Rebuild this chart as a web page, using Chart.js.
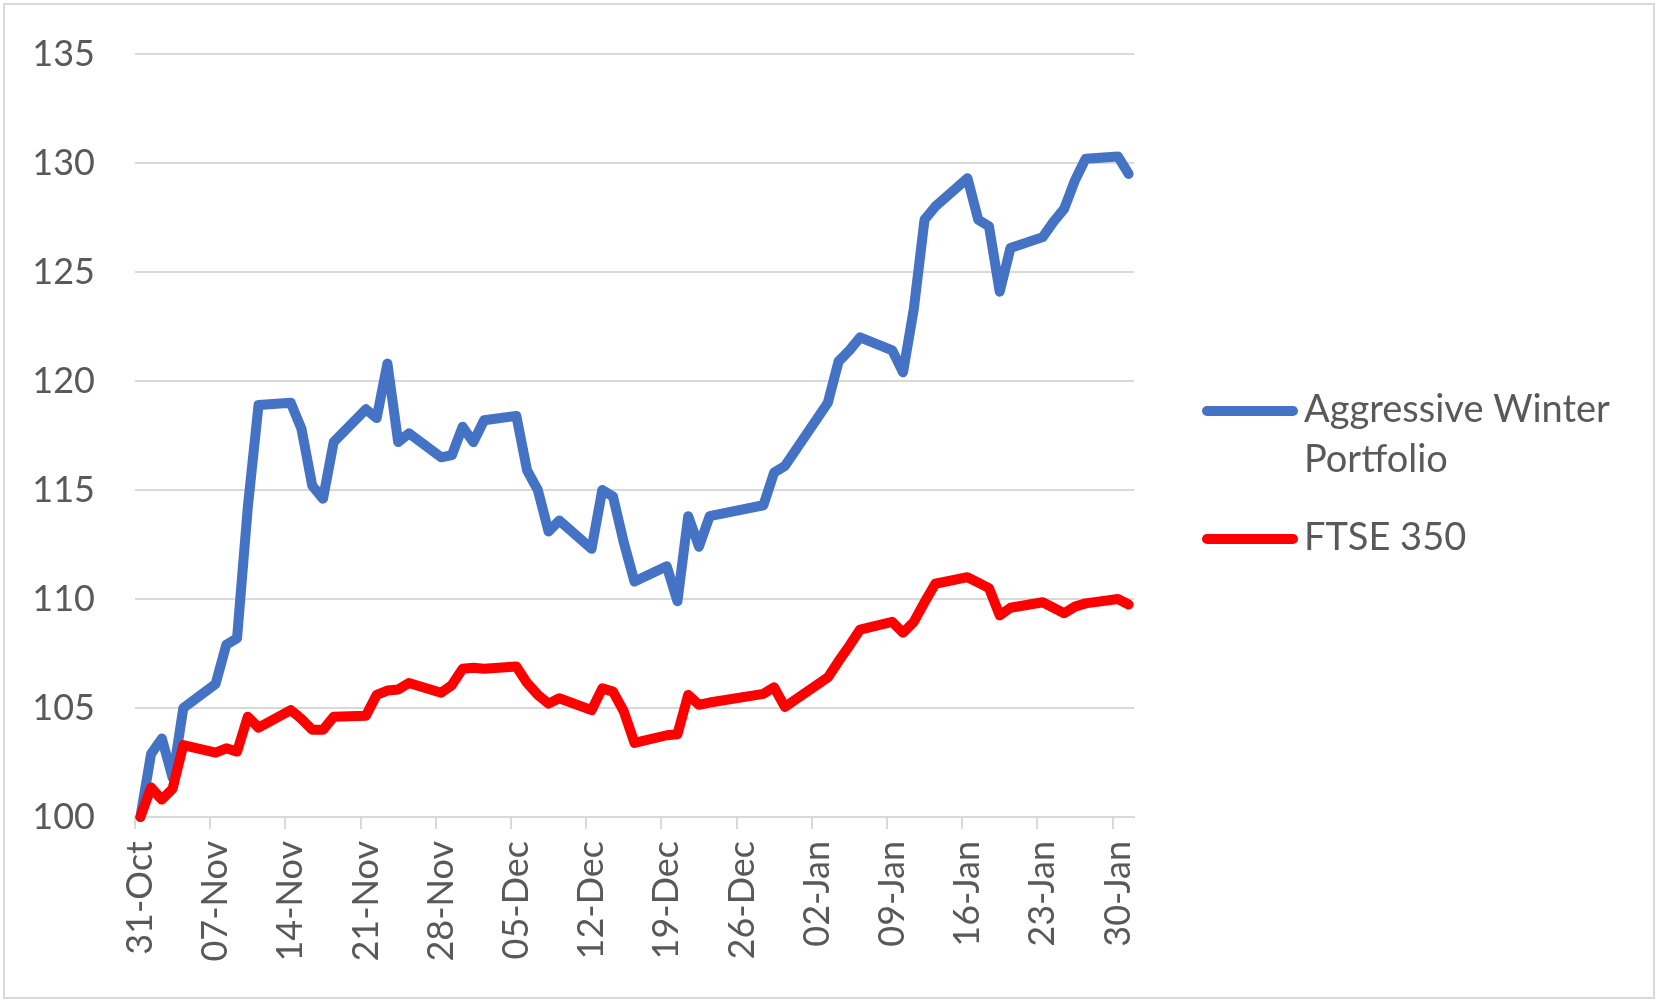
<!DOCTYPE html>
<html>
<head>
<meta charset="utf-8">
<script src="https://cdn.jsdelivr.net/npm/chart.js@4.4.1/dist/chart.umd.min.js"></script>
<style>
  html, body { margin: 0; padding: 0; background: #fff; }
  #wrap { position: relative; width: 1663px; height: 1003px; }
  #frame { position: absolute; left: 3px; top: 3px; width: 1652px; height: 996px; border: 2px solid #d9d9d9; box-sizing: border-box; }
  canvas { position: absolute; left: 0; top: 0; }
</style>
</head>
<body>
<div id="wrap">
  <div id="frame"></div>
  <canvas id="chart" width="1663" height="1003"></canvas>
</div>
<script>
// trading days, counted in days after 31-Oct
const tradingDays = [
  0, 1, 2, 3, 4, 7, 8, 9, 10, 11, 14, 15, 16, 17, 18, 21, 22, 23, 24, 25,
  28, 29, 30, 31, 32, 35, 36, 37, 38, 39, 42, 43, 44, 45, 46, 49, 50, 51, 52, 53,
  58, 59, 60, 64, 65, 66, 67, 70, 71, 72, 73, 74, 77, 78, 79, 80, 81,
  84, 85, 86, 87, 88, 91, 92
];
const portfolio = [
  100, 102.9, 103.6, 101.8, 105.0, 106.1, 107.9, 108.2, 114.2, 118.9,
  119.0, 117.8, 115.2, 114.6, 117.2, 118.7, 118.3, 120.8, 117.2, 117.6,
  116.5, 116.6, 117.9, 117.2, 118.2, 118.4, 115.9, 115.0, 113.1, 113.6,
  112.3, 115.0, 114.7, 112.6, 110.8, 111.5, 109.9, 113.8, 112.4, 113.8,
  114.3, 115.8, 116.1, 119.0, 120.9, 121.4, 122.0, 121.4, 120.4, 123.3,
  127.4, 128.0, 129.3, 127.4, 127.1, 124.1, 126.1, 126.6, 127.3, 127.9,
  129.2, 130.2, 130.3, 129.5
];
const ftse350 = [
  100, 101.35, 100.8, 101.3, 103.3, 102.95, 103.15, 103.0, 104.6, 104.1,
  104.9, 104.5, 104.0, 104.0, 104.6, 104.65, 105.6, 105.8, 105.85, 106.15,
  105.7, 106.05, 106.8, 106.85, 106.8, 106.9, 106.15, 105.6, 105.2, 105.45,
  104.9, 105.9, 105.75, 104.85, 103.4, 103.75, 103.8, 105.6, 105.15, 105.25,
  105.65, 105.95, 105.05, 106.4, 107.15, 107.85, 108.6, 108.95, 108.45, 108.95,
  109.85, 110.7, 111.0, 110.75, 110.5, 109.25, 109.6, 109.85, 109.6, 109.35,
  109.65, 109.8, 110.0, 109.75
];
const tickDays = [0, 7, 14, 21, 28, 35, 42, 49, 56, 63, 70, 77, 84, 91];
const tickLabels = [
  "31-Oct", "07-Nov", "14-Nov", "21-Nov", "28-Nov", "05-Dec", "12-Dec",
  "19-Dec", "26-Dec", "02-Jan", "09-Jan", "16-Jan", "23-Jan", "30-Jan"
];
const seriesNames = ["Aggressive Winter Portfolio", "FTSE 350"];
const seriesColors = ["#4472C4", "#FF0000"];

const FONT = "Lato, 'Open Sans', sans-serif";
const TEXT_COLOR = "#595959";
const GRID_COLOR = "#d9d9d9";

function toPoints(values) {
  return values.map((v, i) => ({ x: tradingDays[i], y: v }));
}

function wrapText(ctx, text, maxWidth) {
  const words = text.split(" ");
  const lines = [];
  let line = "";
  words.forEach((w) => {
    const test = line ? line + " " + w : w;
    if (line && ctx.measureText(test).width > maxWidth) {
      lines.push(line);
      line = w;
    } else {
      line = test;
    }
  });
  lines.push(line);
  return lines;
}

// legend on the right, with wrapped labels like the spreadsheet one
const sideLegend = {
  id: "sideLegend",
  afterDraw(chart) {
    const ctx = chart.ctx;
    const lineX = 1207, lineEnd = 1293, textX = 1304;
    const lineHeight = 50;
    let y = 411;
    ctx.save();
    ctx.font = "38px " + FONT;
    ctx.textBaseline = "middle";
    chart.data.datasets.forEach((ds) => {
      ctx.strokeStyle = ds.borderColor;
      ctx.lineWidth = 10;
      ctx.lineCap = "round";
      ctx.beginPath();
      ctx.moveTo(lineX, y);
      ctx.lineTo(lineEnd, y);
      ctx.stroke();
      const lines = wrapText(ctx, ds.label, 330);
      ctx.fillStyle = TEXT_COLOR;
      lines.forEach((l, i) => ctx.fillText(l, textX, y - 1 + i * lineHeight));
      y += lines.length * lineHeight + 28;
    });
    ctx.restore();
  }
};

new Chart(document.getElementById("chart"), {
  type: "line",
  data: {
    datasets: [
      {
        label: seriesNames[0],
        data: toPoints(portfolio),
        borderColor: seriesColors[0],
        order: 1
      },
      {
        label: seriesNames[1],
        data: toPoints(ftse350),
        borderColor: seriesColors[1],
        order: 0
      }
    ]
  },
  options: {
    responsive: false,
    animation: false,
    layout: { padding: { left: 0, top: 54, right: 529, bottom: 0 } },
    elements: {
      line: { borderWidth: 10, tension: 0, borderCapStyle: "round", borderJoinStyle: "round", fill: false },
      point: { radius: 0, hoverRadius: 0 }
    },
    datasets: { line: { clip: false } },
    plugins: { legend: { display: false }, tooltip: { enabled: false } },
    scales: {
      x: {
        type: "linear",
        min: -0.5,
        max: 92.5,
        afterBuildTicks: (axis) => {
          axis.ticks = tickDays.map((d) => ({ value: d - 0.5 }));
        },
        afterFit: (axis) => { axis.height = 186; },
        border: { display: true, color: GRID_COLOR, width: 2 },
        grid: { drawOnChartArea: false, drawTicks: true, tickLength: 12, color: GRID_COLOR, lineWidth: 2 },
        ticks: {
          autoSkip: false,
          minRotation: 90,
          maxRotation: 90,
          padding: 12,
          labelOffset: 5.4,
          color: TEXT_COLOR,
          font: { family: FONT, size: 36 },
          callback: (value, index) => tickLabels[index]
        }
      },
      y: {
        min: 100,
        max: 135,
        afterFit: (axis) => {
          axis.width = 135;
          axis.paddingTop = 0;
          axis.paddingBottom = 0;
        },
        border: { display: false },
        grid: { drawTicks: false, color: GRID_COLOR, lineWidth: 2 },
        ticks: {
          stepSize: 5,
          padding: 40,
          color: TEXT_COLOR,
          font: { family: FONT, size: 36 }
        }
      }
    }
  },
  plugins: [sideLegend]
});
</script>
</body>
</html>
